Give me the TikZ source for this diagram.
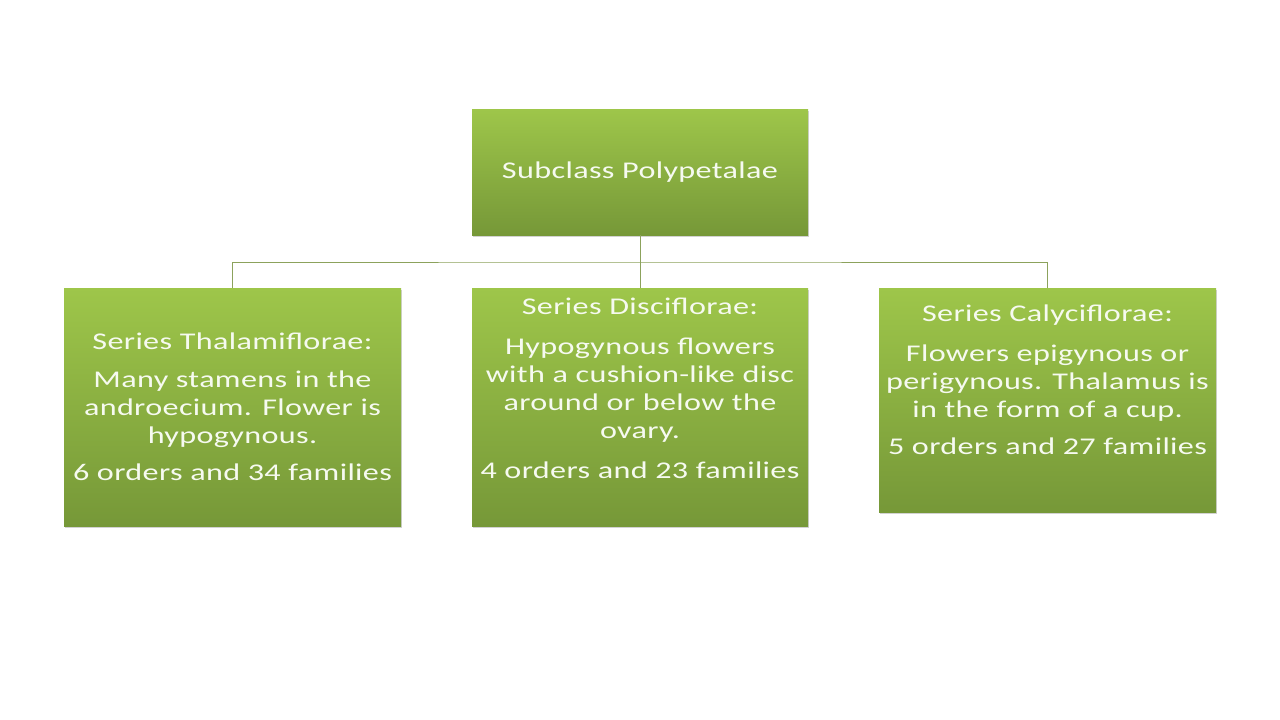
\documentclass[tikz,border=0pt]{standalone}
\usepackage{fontspec}
\setmainfont{Carlito}
\newfontfamily\boxfont[FakeStretch=1.34,LetterSpace=1.5]{Carlito}
\usetikzlibrary{shadows}
\definecolor{gtop}{RGB}{158,198,74}
\definecolor{gbot}{RGB}{118,152,56}
\definecolor{lnc}{RGB}{140,162,92}
\definecolor{txt}{RGB}{246,250,240}
\tikzset{
  gbox/.style={rectangle, draw=none, top color=gtop, bottom color=gbot,
    inner sep=0pt, drop shadow={opacity=0.35, shadow xshift=1pt, shadow yshift=-2pt}},
  btext/.style={text=txt, align=center, inner sep=0pt,
    font=\boxfont\fontsize{24}{28}\selectfont},
  conn/.style={draw=lnc, line width=1pt}
}
\begin{document}
\begin{tikzpicture}[x=1pt,y=-1pt]
\useasboundingbox[fill=white] (0,0) rectangle (1280,720);
% boxes
\node[gbox, minimum width=336pt, minimum height=126pt] (top) at (640,172) {};
\node[gbox, minimum width=337pt, minimum height=238pt] (left) at (232.5,407) {};
\node[gbox, minimum width=336pt, minimum height=238pt] (mid) at (640,407) {};
\node[gbox, minimum width=337pt, minimum height=224pt] (right) at (1047.5,400) {};
% connectors
\coordinate (bus) at (640,262);
\draw[conn] (top.south) -- (bus);
\draw[conn] (left.north) |- (bus) -| (right.north);
\draw[conn] (bus) -- (mid.north);
% texts
\node[btext] (ttop) at (640,172) {Subclass Polypetalae};
\node[btext] (tleft) at (232.5,407) {Series Thalamiflorae:\\[10pt]
 Many stamens in the\\androecium. Flower is\\hypogynous.\\[9pt]
6 orders and 34 families};
\node[btext] (tmid) at (640,388) {Series Disciflorae:\\[12pt]
Hypogynous flowers\\with a cushion-like disc\\around or below the\\ovary.\\[12pt]
4 orders and 23 families};
\node[btext] (tright) at (1047.5,380) {Series Calyciflorae:\\[12pt]
Flowers epigynous or\\perigynous. Thalamus is\\in the form of a cup.\\[9pt]
5 orders and 27 families};
\end{tikzpicture}
\end{document}
